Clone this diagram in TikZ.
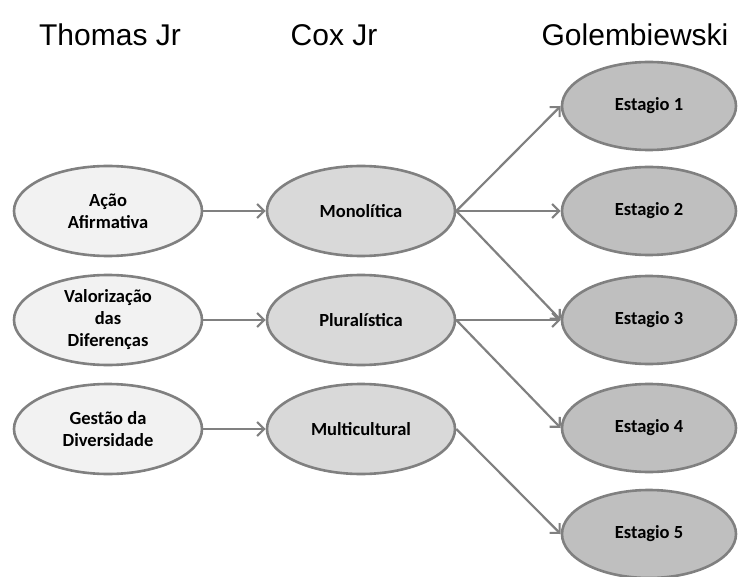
\documentclass[tikz,border=0pt]{standalone}
\usepackage{fontspec}
\setmainfont{Liberation Sans}
\newfontfamily\carlito{Carlito}
\usetikzlibrary{shapes.geometric,arrows.meta}
\definecolor{edgegray}{RGB}{128,128,128}
\definecolor{lightfill}{RGB}{242,242,242}
\definecolor{midfill}{RGB}{217,217,217}
\definecolor{darkfill}{RGB}{191,191,191}
\tikzset{
  oval/.style={ellipse, draw=edgegray, line width=2.6pt, minimum width=188pt, minimum height=90pt, inner sep=0pt, align=center, font=\carlito\bfseries\fontsize{18.5}{22}\selectfont},
  ovalA/.style={oval, fill=lightfill},
  ovalB/.style={oval, fill=midfill},
  ovalC/.style={oval, fill=darkfill, minimum width=174pt, minimum height=88pt},
  head/.style={font=\fontsize{30}{34}\selectfont, inner sep=0pt},
  conn/.style={draw=edgegray, line width=2.2pt, -{Straight Barb[length=7pt,width=14pt,line width=2.2pt]}}
}
\begin{document}
\begin{tikzpicture}[x=1pt,y=-1pt]
\useasboundingbox (0,0) rectangle (741,577);
\node[head] (h1) at (110,35) {Thomas Jr};
\node[head] (h2) at (334,35) {Cox Jr};
\node[head] (h3) at (635,35) {Golembiewski};

\node[ovalA] (a1) at (108,211) {Ação\\Afirmativa};
\node[ovalA] (a2) at (108,320) {Valorização\\das\\Diferenças};
\node[ovalA] (a3) at (108,429) {Gestão da\\Diversidade};

\node[ovalB] (b1) at (361,211) {Monolítica};
\node[ovalB] (b2) at (361,320) {Pluralística};
\node[ovalB] (b3) at (361,429) {Multicultural};

\node[ovalC] (c1) at (649,106) {Estagio 1};
\node[ovalC] (c2) at (649,211) {Estagio 2};
\node[ovalC] (c3) at (649,320) {Estagio 3};
\node[ovalC] (c4) at (649,428) {Estagio 4};
\node[ovalC] (c5) at (649,534) {Estagio 5};

\draw[conn] (a1.east) -- (b1.west);
\draw[conn] (a2.east) -- (b2.west);
\draw[conn] (a3.east) -- (b3.west);
\draw[conn] (b1.east) -- (c1.west);
\draw[conn] (b1.east) -- (c2.west);
\draw[conn] (b1.east) -- (c3.west);
\draw[conn] (b2.east) -- (c3.west);
\draw[conn] (b2.east) -- (c4.west);
\draw[conn] (b3.east) -- (c5.west);
\end{tikzpicture}
\end{document}
